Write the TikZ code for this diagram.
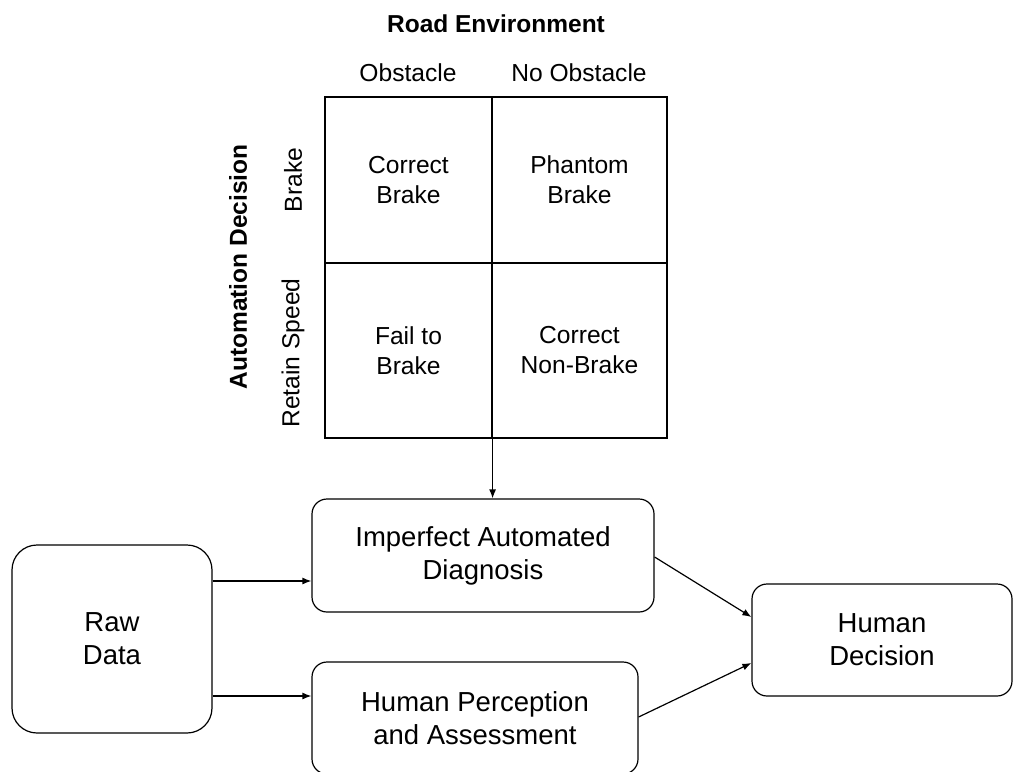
\documentclass[tikz,border=0pt]{standalone}
\usepackage{fontspec}
\setmainfont{Liberation Sans}
\usetikzlibrary{arrows.meta,calc}
\begin{document}
\begin{tikzpicture}[x=1pt,y=-1pt,
  gridtxt/.style={font=\fontsize{24.6}{30}\selectfont, align=center},
  boxtxt/.style={font=\fontsize{27.5}{33}\selectfont, align=center},
  cell/.style={draw, line width=1.2pt, inner sep=0pt, gridtxt},
  rbox/.style={draw, line width=1.2pt, rounded corners=15pt, inner sep=0pt, boxtxt},
  arr/.style={line width=1.2pt, -{Latex[length=9pt,width=7pt]}}
]
\useasboundingbox (0,0) rectangle (1014,771);
% grid cells
\node[cell, minimum width=167pt, minimum height=166pt] (c11) at (408.5,180) {Correct\\Brake};
\node[cell, minimum width=175pt, minimum height=166pt] (c12) at (579.5,180) {Phantom\\Brake};
\node[cell, minimum width=167pt, minimum height=175pt] (c21) at (408.5,350.5) {Fail to\\Brake};
\node[cell, minimum width=175pt, minimum height=175pt] (c22) at (579.5,350.5) {Correct\\Non-Brake};
% headers
\node[font=\fontsize{24.5}{29}\selectfont\bfseries] (road) at (496,24) {Road Environment};
\node[gridtxt] (obs) at (408,73) {Obstacle};
\node[gridtxt] (noobs) at (579,73) {No Obstacle};
\node[gridtxt, rotate=90] (brk) at (293,180) {Brake};
\node[gridtxt, rotate=90] (ret) at (293,353) {Retain Speed};
\node[font=\fontsize{24.5}{29}\selectfont\bfseries, rotate=90] (auto) at (238,267) {Automation Decision};
% boxes
\node[rbox, minimum width=342pt, minimum height=113pt] (imp) at (483,555.5) {Imperfect Automated\\Diagnosis};
\node[rbox, minimum width=326pt, minimum height=112pt] (hp) at (475,718) {Human Perception\\and Assessment};
\node[rbox, rounded corners=25pt, minimum width=200pt, minimum height=188pt] (raw) at (112,639) {Raw\\Data};
\node[rbox, minimum width=260pt, minimum height=112pt] (hd) at (882,640) {Human\\Decision};
% connectors
\draw[arr] (c21.south east) -- (c21.south east |- imp.north);
\draw[arr] ([yshift=58pt]raw.east) -- ([yshift=58pt]raw.east -| imp.west);
\draw[arr] ([yshift=-57pt]raw.east) -- ([yshift=-57pt]raw.east -| hp.west);
\draw[arr] ([yshift=-1.5pt]imp.east) -- ([yshift=23pt]hd.west);
\draw[arr] ([yshift=1pt]hp.east) -- ([yshift=-23pt]hd.west);
\end{tikzpicture}
\end{document}
